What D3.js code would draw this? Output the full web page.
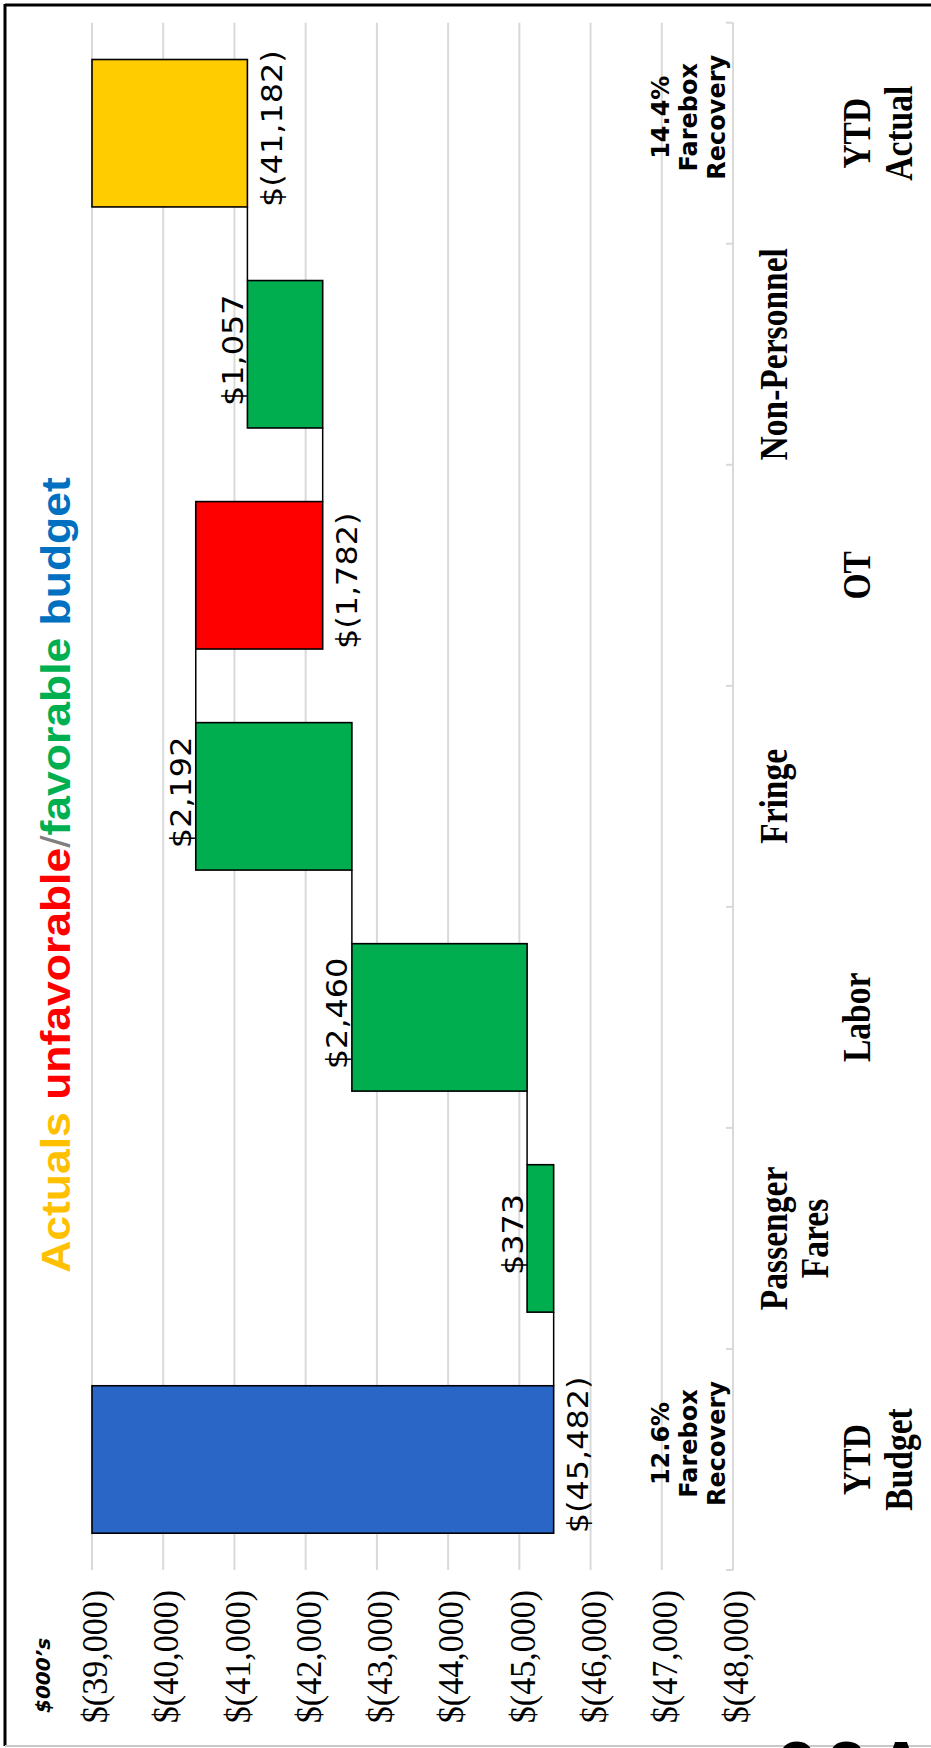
<!DOCTYPE html>
<html>
<head>
<meta charset="utf-8">
<script src="https://cdn.jsdelivr.net/npm/d3@7"></script>
<style>
  html, body { margin: 0; padding: 0; background: #ffffff; }
  svg { display: block; }
</style>
</head>
<body>
<script>
// ---------- data ----------
const categories = ["YTD Budget", "Passenger Fares", "Labor", "Fringe", "OT", "Non-Personnel", "YTD Actual"];
const categoryLines = [["YTD", "Budget"], ["Passenger", "Fares"], ["Labor"], ["Fringe"], ["OT"], ["Non-Personnel"], ["YTD", "Actual"]];
const changes = [-45482, 373, 2460, 2192, -1782, 1057, -41182];
const kinds = ["budget", "favorable", "favorable", "favorable", "unfavorable", "favorable", "actual"];
const tickValues = [-39000, -40000, -41000, -42000, -43000, -44000, -45000, -46000, -47000, -48000];
const fareboxCats = ["YTD Budget", "YTD Actual"];
const fareboxText = [["12.6%", "Farebox", "Recovery"], ["14.4%", "Farebox", "Recovery"]];
const titleParts = ["Actuals ", "unfavorable", "/", "favorable", " budget"];
const titleKinds = ["actual", "unfavorable", "slash", "favorable", "budgetText"];
const unitLabel = "$000\u2019s";

// ---------- styles ----------
const colorOf = { budget: "#2966C6", favorable: "#00AD4F", unfavorable: "#FF0000", actual: "#FFCC00" };
const titleColorOf = { actual: "#FFC000", unfavorable: "#FF0000", slash: "#7F7F7F", favorable: "#00B050", budgetText: "#0070C0" };
const serif = "'Liberation Serif', 'Times New Roman', serif";

const W = 931, H = 1748;
const svg = d3.select("body").append("svg").attr("width", W).attr("height", H);

const x = d3.scaleLinear().domain([-39000, -48000]).range([92, 733]);
const y = d3.scaleBand().domain(categories).range([1570, 22.7]).paddingInner(0.333).paddingOuter(0.1665);
const bw = y.bandwidth();

function rot(sel, px, py, sx) {
  sel.attr("transform", `translate(${px},${py}) rotate(-90) scale(${sx},1)`);
  return sel;
}

// frame
svg.append("line").attr("x1", 5).attr("y1", 5).attr("x2", W).attr("y2", 5).attr("stroke", "#000").attr("stroke-width", 3);
svg.append("line").attr("x1", 5).attr("y1", 4).attr("x2", 5).attr("y2", 1746).attr("stroke", "#000").attr("stroke-width", 3);
svg.append("line").attr("x1", 5).attr("y1", 1746).attr("x2", W).attr("y2", 1746).attr("stroke", "#c8c8c8").attr("stroke-width", 2);

// gridlines
const [yTop, yBot] = [22.7, 1570];
svg.append("g").selectAll("line").data(tickValues).join("line")
  .attr("x1", d => x(d)).attr("x2", d => x(d))
  .attr("y1", yTop).attr("y2", yBot)
  .attr("stroke", "#d9d9d9").attr("stroke-width", 2);

// category ticks (band boundaries)
const bounds = [yTop].concat(categories.map(c => y(c) + bw / 2 + y.step() / 2));
svg.append("g").selectAll("line").data(bounds).join("line")
  .attr("x1", x(-48000) - 7).attr("x2", x(-48000))
  .attr("y1", d => d).attr("y2", d => d)
  .attr("stroke", "#d9d9d9").attr("stroke-width", 2);

// value tick labels
svg.append("g").selectAll("text").data(tickValues).join("text")
  .each(function(d) { rot(d3.select(this), x(d) + 3, 1590, 0.945); })
  .attr("text-anchor", "end").attr("dy", "0.34em")
  .attr("font-family", serif).attr("font-size", 36).attr("fill", "#000")
  .text(d => "$(" + d3.format(",")(-d) + ")");

// unit label
rot(svg.append("text"), 50, 1713, 1)
  .attr("font-family", "DejaVu Sans").attr("font-weight", "bold").attr("font-style", "italic")
  .attr("font-size", 20).attr("fill", "#000").text(unitLabel);

// waterfall computation
let cum = 0;
const bars = categories.map((c, i) => {
  let s, e;
  if (kinds[i] === "budget" || kinds[i] === "actual") { s = x.domain()[0]; e = changes[i]; }
  else { s = cum; e = cum + changes[i]; }
  cum = e;
  return { cat: c, start: s, end: e, change: changes[i], kind: kinds[i] };
});

// connectors
svg.append("g").selectAll("line").data(bars.slice(0, -1)).join("line")
  .attr("x1", d => x(d.end)).attr("x2", d => x(d.end))
  .attr("y1", d => y(d.cat))
  .attr("y2", (d, i) => y(bars[i + 1].cat) + bw)
  .attr("stroke", "#000").attr("stroke-width", 1.5);

// bars
svg.append("g").selectAll("rect").data(bars).join("rect")
  .attr("x", d => Math.min(x(d.start), x(d.end)))
  .attr("width", d => Math.abs(x(d.end) - x(d.start)))
  .attr("y", d => y(d.cat)).attr("height", bw)
  .attr("fill", d => colorOf[d.kind]).attr("stroke", "#000").attr("stroke-width", 1.6);

// value labels
const fmt = v => v < 0 ? "$(" + d3.format(",")(-v) + ")" : "$" + d3.format(",")(v);
svg.append("g").selectAll("text").data(bars).join("text")
  .each(function(d) {
    const t = d3.select(this);
    if (d.change < 0) {
      rot(t, Math.max(x(d.start), x(d.end)) + 24, y(d.cat) + bw, 1.1).attr("text-anchor", "start");
    } else {
      rot(t, Math.min(x(d.start), x(d.end)) - 15, y(d.cat) + bw / 2 - 4, 1.1).attr("text-anchor", "middle");
    }
  })
  .attr("dy", "0.36em")
  .attr("font-family", "DejaVu Sans").attr("font-size", 29).attr("fill", "#000")
  .text(d => fmt(d.change));

// category labels (staggered rows)
const rowBase = [[787, 828], [870, 912]];
categories.forEach((c, i) => {
  const row = i % 2 === 0 ? 1 : 0;
  categoryLines[i].forEach((ln, j) => {
    rot(svg.append("text"), rowBase[row][j], y(c) + bw / 2, 0.86)
      .attr("text-anchor", "middle")
      .attr("font-family", serif).attr("font-weight", "bold")
      .attr("font-size", 39).attr("fill", "#000").text(ln);
  });
});

// farebox annotations
const fbBase = [669, 697, 725];
fareboxCats.forEach((c, i) => {
  fareboxText[i].forEach((ln, j) => {
    rot(svg.append("text"), fbBase[j], y(c) + bw / 2 - 16, 1)
      .attr("text-anchor", "middle")
      .attr("font-family", "DejaVu Sans").attr("font-weight", "bold")
      .attr("font-size", 24).attr("fill", "#000").text(ln);
  });
});

// title
const title = rot(svg.append("text"), 70, 875, 1.112)
  .attr("text-anchor", "middle")
  .attr("font-family", "Liberation Sans").attr("font-weight", "bold").attr("font-size", 40);
titleParts.forEach((p, i) => {
  title.append("tspan").attr("fill", titleColorOf[titleKinds[i]])
    .attr("font-weight", titleKinds[i] === "slash" ? "normal" : "bold")
    .attr("xml:space", "preserve").text(p);
});

// cut-off text at the bottom edge
svg.append("text").attr("x", 778).attr("y", 1791)
  .attr("font-family", "Liberation Sans").attr("font-weight", "bold").attr("font-size", 70)
  .attr("letter-spacing", 10).attr("fill", "#000").text("92AT");
</script>
</body>
</html>
